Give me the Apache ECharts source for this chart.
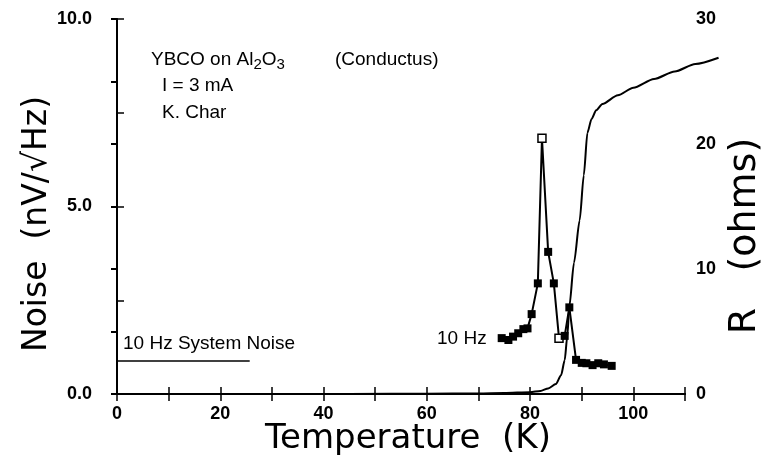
<!DOCTYPE html>
<html>
<head>
<meta charset="utf-8">
<script src="https://cdn.jsdelivr.net/npm/echarts@6/dist/echarts.min.js"></script>
<style>html,body{margin:0;padding:0;background:#fff}#c{width:770px;height:466px}</style>
</head>
<body>
<div id="c"></div>
<script>
// ---- data ----
const noiseT = [74.5, 75.8, 76.7, 77.7, 78.7, 79.5, 80.3, 81.5, 82.3, 83.5, 84.6, 85.6, 86.7, 87.6, 88.9, 90.0, 90.9, 92.1, 93.2, 94.3, 95.8];
const noiseV = [1.49, 1.44, 1.53, 1.62, 1.73, 1.75, 2.13, 2.95, 6.82, 3.79, 2.95, 1.49, 1.55, 2.31, 0.91, 0.83, 0.82, 0.77, 0.82, 0.79, 0.75];
const noiseOpenT = [82.3, 85.6];
const resT = [45, 60, 70, 75, 80, 82, 83.5, 85, 86, 86.7, 87.2, 87.6, 88.5, 89.6, 90.4, 91.1, 91.9, 92.8, 94, 97, 100, 104, 108, 112, 116.5];
const resV = [0, 0.02, 0.05, 0.08, 0.15, 0.25, 0.45, 0.8, 1.5, 2.7, 4.6, 7.0, 10.5, 13.9, 17.5, 20.9, 22.0, 22.7, 23.2, 23.9, 24.5, 25.2, 25.8, 26.4, 26.9];
const sysNoiseT = [0, 25.7];
const sysNoiseV = [0.88, 0.88];
const xTickLabels = [0, 20, 40, 60, 80, 100];
const yLeftLabels = [0, 5, 10];
const yRightLabels = [0, 10, 20, 30];

const chart = echarts.init(document.getElementById('c'), null, {renderer: 'canvas'});
const tickFont = {fontFamily: 'Liberation Sans', fontWeight: 'bold', fontSize: 18, color: '#000'};
const axisLine = {show: true, lineStyle: {color: '#000', width: 2}};

// main grid geometry; an overlay grid (same scale) lets the R curve run past the right frame
const G = {left: 117, right: 85, top: 19, bottom: 72};
const overlayRight = 45;
const mainW = 770 - G.left - G.right;
const overW = 770 - G.left - overlayRight;
const xMax = 110;

const noiseData = noiseT.map((t, i) => {
  const open = noiseOpenT.indexOf(t) >= 0;
  return {value: [t, noiseV[i]], itemStyle: open ? {color: '#fff', borderColor: '#000', borderWidth: 1.5} : {color: '#000'}};
});

chart.setOption({
  animation: false,
  backgroundColor: '#fff',
  grid: [
    {left: G.left, right: G.right, top: G.top, bottom: G.bottom, containLabel: false},
    {left: G.left, right: overlayRight, top: G.top, bottom: G.bottom, containLabel: false}
  ],
  xAxis: [
    {type: 'value', gridIndex: 0, position: 'bottom', min: 0, max: xMax, interval: 10,
     axisLine: axisLine, splitLine: {show: false},
     axisTick: {inside: true, length: 7, lineStyle: {color: '#000', width: 1.5}},
     axisLabel: Object.assign({margin: 11, formatter: v => xTickLabels.indexOf(v) >= 0 ? String(v) : ''}, tickFont)},
    {type: 'value', gridIndex: 0, position: 'top', min: 0, max: xMax, interval: 10,
     axisLine: axisLine, splitLine: {show: false},
     axisTick: {inside: true, length: 7, lineStyle: {color: '#000', width: 1.5}},
     axisLabel: {show: false}},
    {type: 'value', gridIndex: 1, min: 0, max: xMax * overW / mainW, show: false}
  ],
  yAxis: [
    {type: 'value', gridIndex: 0, position: 'left', min: 0, max: 10, interval: 2.5,
     axisLine: axisLine, splitLine: {show: false},
     axisTick: {inside: true, length: 7, lineStyle: {color: '#000', width: 1.5}},
     axisLabel: Object.assign({margin: 25, formatter: v => yLeftLabels.indexOf(v) >= 0 ? v.toFixed(1) : ''}, tickFont)},
    {type: 'value', gridIndex: 0, position: 'right', min: 0, max: 30, interval: 5,
     axisLine: {show: true, lineStyle: {color: '#000', width: 1.5, type: [9, 3, 2, 3]}}, splitLine: {show: false},
     axisTick: {inside: true, length: 6, lineStyle: {color: '#000', width: 2}},
     axisLabel: Object.assign({margin: 11, formatter: v => yRightLabels.indexOf(v) >= 0 ? String(v) : ''}, tickFont)},
    {type: 'value', gridIndex: 1, min: 0, max: 30, show: false}
  ],
  series: [
    {type: 'line', xAxisIndex: 0, yAxisIndex: 0, data: sysNoiseT.map((t, i) => [t, sysNoiseV[i]]),
     showSymbol: false, lineStyle: {color: '#000', width: 1.5}},
    {type: 'line', xAxisIndex: 0, yAxisIndex: 0, data: noiseData,
     symbol: 'rect', symbolSize: 8, lineStyle: {color: '#000', width: 2}, itemStyle: {color: '#000'}},
    {type: 'line', xAxisIndex: 2, yAxisIndex: 2, data: resT.map((t, i) => [t, resV[i]]),
     showSymbol: false, smooth: 0.25, smoothMonotone: 'x', lineStyle: {color: '#000', width: 2}}
  ],
  graphic: [
    {type: 'text', left: 151, top: 50, style: {text: 'YBCO on Al{s|2}O{s|3}', font: '19px "Liberation Sans"', fill: '#000',
      rich: {s: {fontSize: 15, fontFamily: 'Liberation Sans', padding: [10, 0, 0, 0]}}}},
    {type: 'text', left: 335, top: 50, style: {text: '(Conductus)', font: '19px "Liberation Sans"', fill: '#000'}},
    {type: 'text', left: 162, top: 76, style: {text: 'I = 3 mA', font: '19px "Liberation Sans"', fill: '#000'}},
    {type: 'text', left: 162, top: 103, style: {text: 'K. Char', font: '19px "Liberation Sans"', fill: '#000'}},
    {type: 'text', left: 437, top: 329, style: {text: '10 Hz', font: '19px "Liberation Sans"', fill: '#000'}},
    {type: 'text', left: 123, top: 334, style: {text: '10 Hz System Noise', font: '19px "Liberation Sans"', fill: '#000'}},
    {type: 'text', x: 408, y: 439, style: {text: 'Temperature  (K)', font: '34px "DejaVu Sans"', fill: '#000', align: 'center', verticalAlign: 'middle'}},
    {type: 'text', x: 37, y: 224, rotation: Math.PI / 2, style: {text: 'Noise  (nV/√Hz)', font: '33px "DejaVu Sans"', fill: '#000', align: 'center', verticalAlign: 'middle'}},
    {type: 'text', x: 745, y: 236, rotation: Math.PI / 2, style: {text: 'R   (ohms)', font: '38px "DejaVu Sans"', fill: '#000', align: 'center', verticalAlign: 'middle'}}
  ]
});
</script>
</body>
</html>
